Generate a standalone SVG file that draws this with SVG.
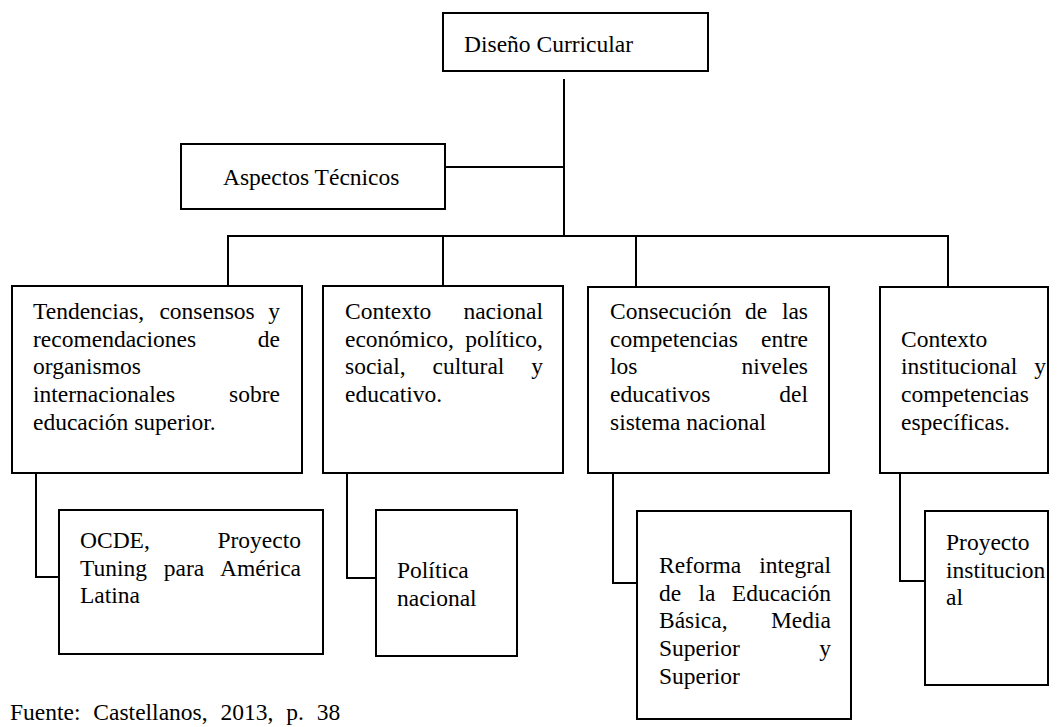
<svg xmlns="http://www.w3.org/2000/svg" width="1057" height="727" viewBox="0 0 1057 727">
  <style>
    .box { fill: #ffffff; stroke: #000000; stroke-width: 2; }
    .link { fill: none; stroke: #000000; stroke-width: 2; }
    text { font-family: "Liberation Serif", "Times New Roman", serif; font-size: 23.5px; fill: #000000; }
    .r { text-anchor: end; }
    .source { word-spacing: 7px; }
  </style>
  <rect width="1057" height="727" fill="#ffffff"/>

  <!-- connectors -->
  <g id="connectors">
    <path class="link" d="M564 79 V236"/>
    <path class="link" d="M445 167 H564"/>
    <path class="link" d="M228 286 V236 H948 V287"/>
    <path class="link" d="M443 236 V286"/>
    <path class="link" d="M636 236 V287"/>
    <path class="link" d="M36 473 V577 H59"/>
    <path class="link" d="M347 473 V578 H376"/>
    <path class="link" d="M613 473 V583 H637"/>
    <path class="link" d="M900 473 V581 H925"/>
  </g>

  <!-- root -->
  <g id="diseno-curricular">
    <rect class="box" x="443" y="13" width="265" height="58"/>
    <text x="464" y="52">Diseño Curricular</text>
  </g>

  <g id="aspectos-tecnicos">
    <rect class="box" x="181" y="144" width="264" height="65"/>
    <text x="223" y="185">Aspectos Técnicos</text>
  </g>

  <!-- first level -->
  <g id="tendencias">
    <rect class="box" x="12" y="286" width="290" height="187"/>
    <text x="33" y="319">Tendencias,</text>
    <text x="159.4" y="319">consensos</text>
    <text class="r" x="280" y="319">y</text>
    <text x="33" y="346.7">recomendaciones</text>
    <text class="r" x="280" y="346.7">de</text>
    <text x="33" y="374.4">organismos</text>
    <text x="33" y="402">internacionales</text>
    <text class="r" x="280" y="402">sobre</text>
    <text x="33" y="429.8">educación superior.</text>
  </g>

  <g id="contexto-nacional">
    <rect class="box" x="323" y="286" width="240" height="187"/>
    <text x="345" y="319">Contexto</text>
    <text class="r" x="543" y="319">nacional</text>
    <text x="345" y="346.7">económico,</text>
    <text class="r" x="543" y="346.7">político,</text>
    <text x="345" y="374.4">social,</text>
    <text x="432.6" y="374.4">cultural</text>
    <text class="r" x="543" y="374.4">y</text>
    <text x="345" y="402">educativo.</text>
  </g>

  <g id="consecucion">
    <rect class="box" x="588" y="287" width="241" height="186"/>
    <text x="610" y="319">Consecución</text>
    <text x="744.9" y="319">de</text>
    <text class="r" x="808" y="319">las</text>
    <text x="610" y="346.7">competencias</text>
    <text class="r" x="808" y="346.7">entre</text>
    <text x="610" y="374.4">los</text>
    <text class="r" x="808" y="374.4">niveles</text>
    <text x="610" y="402">educativos</text>
    <text class="r" x="808" y="402">del</text>
    <text x="610" y="429.8">sistema nacional</text>
  </g>

  <g id="contexto-institucional">
    <rect class="box" x="880" y="287" width="168" height="186"/>
    <text x="901" y="346.7">Contexto</text>
    <text x="901" y="374.4">institucional</text>
    <text class="r" x="1046" y="374.4">y</text>
    <text x="901" y="402">competencias</text>
    <text x="901" y="429.8">específicas.</text>
  </g>

  <!-- second level -->
  <g id="ocde-tuning">
    <rect class="box" x="59" y="510" width="264" height="144"/>
    <text x="80" y="548">OCDE,</text>
    <text class="r" x="301" y="548">Proyecto</text>
    <text x="80" y="575.7">Tuning</text>
    <text x="163.8" y="575.7">para</text>
    <text class="r" x="301" y="575.7">América</text>
    <text x="80" y="603.4">Latina</text>
  </g>

  <g id="politica-nacional">
    <rect class="box" x="376" y="510" width="141" height="146"/>
    <text x="397" y="578">Política</text>
    <text x="397" y="605.5">nacional</text>
  </g>

  <g id="reforma-integral">
    <rect class="box" x="637" y="511" width="214" height="208"/>
    <text x="659" y="573">Reforma</text>
    <text class="r" x="831" y="573">integral</text>
    <text x="659" y="600.5">de</text>
    <text x="698.6" y="600.5">la</text>
    <text class="r" x="831" y="600.5">Educación</text>
    <text x="659" y="628">Básica,</text>
    <text class="r" x="831" y="628">Media</text>
    <text x="659" y="656">Superior</text>
    <text class="r" x="831" y="656">y</text>
    <text x="659" y="683.5">Superior</text>
  </g>

  <g id="proyecto-institucional">
    <rect class="box" x="925" y="511" width="123" height="174"/>
    <text x="946" y="550">Proyecto</text>
    <text x="946" y="577.7">institucion</text>
    <text x="946" y="605.4">al</text>
  </g>

  <!-- source line -->
  <text class="source" x="10" y="720">Fuente: Castellanos, 2013, p. 38</text>
</svg>
